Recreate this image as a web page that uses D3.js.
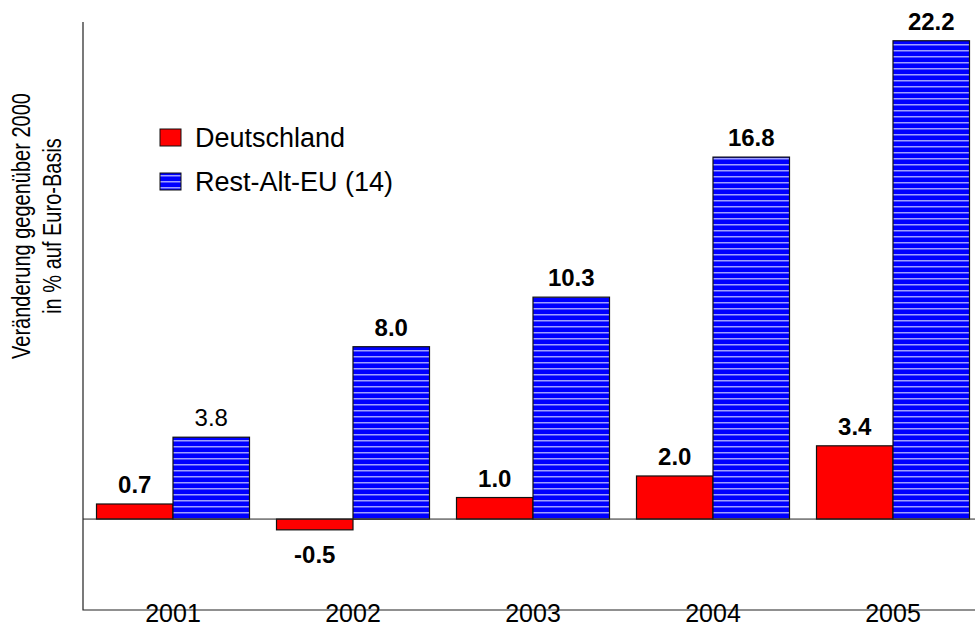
<!DOCTYPE html>
<html>
<head>
<meta charset="utf-8">
<script src="https://cdn.jsdelivr.net/npm/d3@7"></script>
<style>
  body { margin: 0; background: #fff; }
  text { font-family: "Liberation Sans", Arial, sans-serif; }
</style>
</head>
<body>
<div class="chart"></div>
<script>
// data
var years = ["2001", "2002", "2003", "2004", "2005"];
var seriesNames = ["Deutschland", "Rest-Alt-EU (14)"];
var deutschland = [0.7, -0.5, 1.0, 2.0, 3.4];
var restEU = [3.8, 8.0, 10.3, 16.8, 22.2];
var boldLabel = [[true, true, true, true, true], [false, true, true, true, true]];
var titleLines = ["Veränderung gegenüber 2000", "in % auf Euro-Basis"];

var width = 975, height = 628;
var margin = {top: 22, left: 83, bottom: 18};

var svg = d3.select("div.chart").append("svg")
    .attr("width", width)
    .attr("height", height);

// striped fill for the second series
var defs = svg.append("defs");
var pat = defs.append("pattern")
    .attr("id", "stripes")
    .attr("patternUnits", "userSpaceOnUse")
    .attr("width", 8).attr("height", 6);
pat.append("rect").attr("width", 8).attr("height", 6).attr("fill", "#0000ff");
pat.append("rect").attr("y", 2).attr("width", 8).attr("height", 1.5).attr("fill", "#a0a0ff");

var x = d3.scaleBand()
    .domain(years)
    .range([margin.left, margin.left + 900])
    .paddingInner(0.15)
    .paddingOuter(0.075);

var xs = d3.scaleBand()
    .domain([0, 1])
    .range([0, x.bandwidth()]);

var y = d3.scaleLinear()
    .domain([-4.22, 23.07])
    .range([height - margin.bottom, margin.top]);

var fills = ["#ff0000", "url(#stripes)"];
var series = [deutschland, restEU];

// bars + value labels
series.forEach(function(vals, si) {
  svg.append("g").selectAll("rect")
    .data(vals)
    .enter().append("rect")
      .attr("x", function(d, i) { return x(years[i]) + xs(si); })
      .attr("width", xs.bandwidth())
      .attr("y", function(d) { return y(Math.max(0, d)); })
      .attr("height", function(d) { return Math.abs(y(d) - y(0)); })
      .attr("fill", fills[si])
      .attr("stroke", "#111")
      .attr("stroke-width", 1.2);

  svg.append("g").selectAll("text")
    .data(vals)
    .enter().append("text")
      .attr("x", function(d, i) { return x(years[i]) + xs(si) + xs.bandwidth() / 2; })
      .attr("y", function(d) { return d >= 0 ? y(d) - 11 : y(d) + 33; })
      .attr("text-anchor", "middle")
      .style("font-size", "24px")
      .style("font-weight", function(d, i) { return boldLabel[si][i] ? "bold" : "normal"; })
      .text(function(d) { return d.toFixed(1); });
});

// zero line
svg.append("line")
    .attr("x1", margin.left).attr("x2", width)
    .attr("y1", y(0)).attr("y2", y(0))
    .attr("stroke", "#222").attr("stroke-width", 1);

// axis frame
svg.append("path")
    .attr("d", "M" + margin.left + "," + margin.top + "V" + y.range()[0] + "H" + width)
    .attr("fill", "none")
    .attr("stroke", "#222")
    .attr("stroke-width", 1.2);

// year labels
svg.append("g").selectAll("text")
  .data(years)
  .enter().append("text")
    .attr("x", function(d) { return x(d) + x.bandwidth() / 2; })
    .attr("y", 622)
    .attr("text-anchor", "middle")
    .style("font-size", "25px")
    .text(function(d) { return d; });

// y axis title (narrow lettering, like the original)
svg.append("g").selectAll("text")
  .data(titleLines)
  .enter().append("text")
    .attr("transform", function(d, i) { return "translate(" + (30 + i * 31) + ",226) rotate(-90) scale(0.77,1)"; })
    .attr("text-anchor", "middle")
    .style("font-size", "26px")
    .text(function(d) { return d; });

// legend
var legend = svg.append("g").selectAll("g")
  .data(seriesNames)
  .enter().append("g")
    .attr("transform", function(d, i) { return "translate(160," + (129 + i * 44) + ")"; });
legend.append("rect")
    .attr("width", 21).attr("height", 17)
    .attr("fill", function(d, i) { return fills[i]; })
    .attr("stroke", "#111").attr("stroke-width", 1);
legend.append("text")
    .attr("x", 35).attr("y", 18)
    .style("font-size", "27px")
    .text(function(d) { return d; });
</script>
</body>
</html>
